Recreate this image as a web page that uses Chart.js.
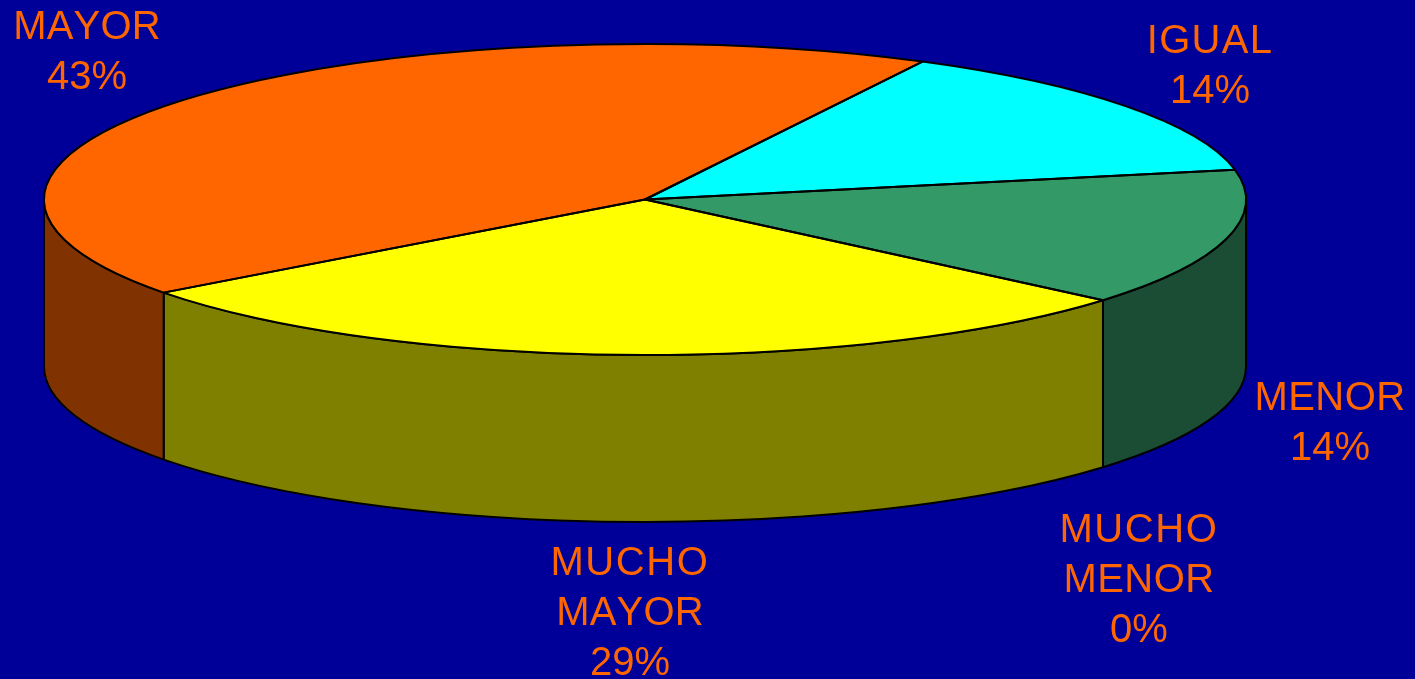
<!DOCTYPE html>
<html>
<head>
<meta charset="utf-8">
<style>html,body{margin:0;padding:0;background:#000099;overflow:hidden}canvas{display:block}</style>
<script src="https://cdn.jsdelivr.net/npm/chart.js@4"></script>
</head>
<body>
<canvas id="c" width="1415" height="679"></canvas>
<script>
const categories = ['IGUAL', 'MENOR', 'MUCHO MENOR', 'MUCHO MAYOR', 'MAYOR'];
const values = [14.3, 14.3, 0, 28.6, 42.9];
const topColors = ['#00FFFF', '#339966', '#FFFFFF', '#FFFF00', '#FF6600'];
const wallColors = ['#008080', '#1A4D33', '#808080', '#808000', '#803300'];
const labelLines = [['IGUAL', '14%'], ['MENOR', '14%'], ['MUCHO', 'MENOR', '0%'], ['MUCHO', 'MAYOR', '29%'], ['MAYOR', '43%']];
const labelAnchors = [[1210, 53], [1330, 410], [1139, 542], [630, 575], [87, 39]];
const wordTracking = {MUCHO: 1.6, IGUAL: 1.3, MENOR: 0.4, MAYOR: 0.2};

const view = {cx: 645, cy: 199.5, rx: 601, ry: 155.5, depth: 167, line: 50, font: '40px "Liberation Sans", Arial, sans-serif', text: '#FF6600'};

const pie3d = {
  id: 'pie3d',
  beforeDatasetDraw(chart, args) {
    const ctx = chart.ctx, arcs = args.meta.data;
    const {cx, cy, rx, ry, depth} = view;
    const TAU = Math.PI * 2;

    // side wall: the part of each slice facing the viewer
    arcs.forEach((arc, i) => {
      const p = arc.getProps(['startAngle', 'endAngle'], true);
      if (p.endAngle - p.startAngle <= 0) return;
      for (let k = -1; k <= 1; k++) {
        const a = Math.max(p.startAngle + k * TAU, 0);
        const b = Math.min(p.endAngle + k * TAU, Math.PI);
        if (b <= a) continue;
        ctx.beginPath();
        ctx.ellipse(cx, cy, rx, ry, 0, a, b);
        ctx.ellipse(cx, cy + depth, rx, ry, 0, b, a, true);
        ctx.closePath();
        ctx.fillStyle = wallColors[i];
        ctx.fill();
        ctx.lineWidth = 2;
        ctx.lineJoin = 'round';
        ctx.strokeStyle = '#000';
        ctx.stroke();
      }
    });

    // top face: the library's own arc elements, flattened
    const a0 = arcs[0], R = a0.getProps(['outerRadius'], true).outerRadius;
    ctx.save();
    ctx.translate(cx, cy);
    ctx.scale(rx / R, ry / R);
    ctx.translate(-a0.x, -a0.y);
    arcs.forEach(arc => arc.draw(ctx));
    ctx.restore();

    // slice outlines
    arcs.forEach(arc => {
      const p = arc.getProps(['startAngle', 'endAngle'], true);
      if (p.endAngle - p.startAngle <= 0) return;
      ctx.beginPath();
      ctx.moveTo(cx, cy);
      ctx.ellipse(cx, cy, rx, ry, 0, p.startAngle, p.endAngle);
      ctx.closePath();
      ctx.lineWidth = 2;
      ctx.lineJoin = 'round';
      ctx.strokeStyle = '#000';
      ctx.stroke();
    });

    // labels
    ctx.fillStyle = view.text;
    ctx.font = view.font;
    ctx.fontKerning = 'none';
    ctx.textAlign = 'center';
    ctx.textBaseline = 'alphabetic';
    labelLines.forEach((lines, i) => {
      lines.forEach((t, j) => {
        ctx.letterSpacing = (wordTracking[t] || 0) + 'px';
        ctx.fillText(t, labelAnchors[i][0], labelAnchors[i][1] + j * view.line);
      });
    });
    ctx.letterSpacing = '0px';
    return false;
  }
};

new Chart(document.getElementById('c'), {
  type: 'pie',
  data: {
    labels: categories,
    datasets: [{data: values, backgroundColor: topColors, borderWidth: 0}]
  },
  options: {
    responsive: false,
    animation: false,
    rotation: 27.5,
    layout: {padding: 0},
    plugins: {legend: {display: false}, tooltip: {enabled: false}, title: {display: false}}
  },
  plugins: [pie3d]
});
</script>
</body>
</html>
